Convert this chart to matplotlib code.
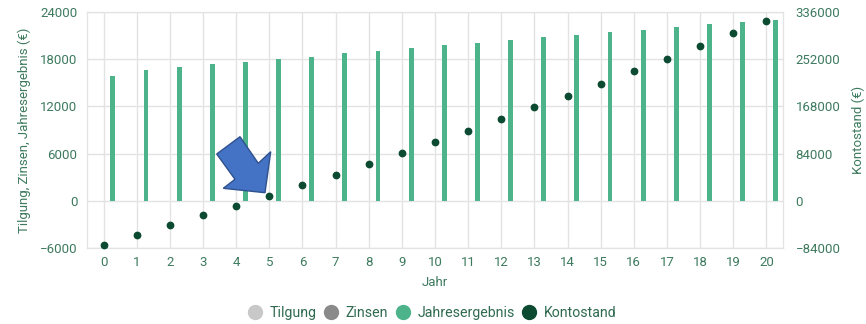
import numpy as np
import matplotlib
matplotlib.use("Agg")
import matplotlib.pyplot as plt
import matplotlib.patches as mpatches
from matplotlib.lines import Line2D

plt.rcParams['font.family'] = ['Roboto', 'DejaVu Sans']

# Data
jahre = list(range(21))
jahresergebnis = [15870, 16600, 16950, 17330, 17660, 18000, 18340, 18730, 19060, 19370,
                  19750, 20080, 20460, 20770, 21100, 21440, 21740, 22040, 22420, 22680, 23010]
kontostand = [-77900, -60600, -43900, -26100, -8800, 9400, 27800, 46800, 65900, 84800,
              104500, 124800, 145400, 166400, 187200, 208600, 230500, 252600, 275100, 297800, 320800]
left_ticks = [-6000, 0, 6000, 12000, 18000, 24000]
right_ticks = [-84000, 0, 84000, 168000, 252000, 336000]
legend_labels = ["Tilgung", "Zinsen", "Jahresergebnis", "Kontostand"]

text_col = "#3d7a5e"
bar_col = "#4cb38a"
dot_col = "#0c4a31"
grid_col = "#e3e3e3"
legend_cols = ["#c8c8c8", "#8a8a8a", bar_col, dot_col]

fig = plt.figure(figsize=(8.66, 3.24), dpi=100)
W, H = 866, 324
left, right, top, bottom = 87, 783, 12, 248
ax = fig.add_axes([left / W, 1 - bottom / H, (right - left) / W, (bottom - top) / H])
ax2 = ax.twinx()

x = np.array(jahre)
ax.bar(x + 0.28, jahresergebnis, width=0.15, color=bar_col, zorder=3)
ax2.scatter(x, kontostand, s=21, color=dot_col, zorder=4, clip_on=False)

ax.set_xlim(-0.5, 20.5)
ax.set_ylim(-6000, 24000)
ax2.set_ylim(-84000, 336000)
ax.set_xticks(jahre)
ax.set_yticks(left_ticks)
ax2.set_yticks(right_ticks)

ax.grid(True, color=grid_col, linewidth=1, zorder=0)
ax.set_axisbelow(True)
for a in (ax, ax2):
    for s in a.spines.values():
        s.set_color(grid_col)
    a.tick_params(length=0, labelcolor=text_col, labelsize=9.5)
ax.tick_params(axis='y', pad=7)
ax.tick_params(axis='x', pad=6)
ax2.tick_params(axis='y', pad=9)
ax2.set_zorder(ax.get_zorder() + 1)
ax2.patch.set_visible(False)

ax.set_xlabel("Jahr", color=text_col, fontsize=9.5, labelpad=5)
ax.set_ylabel("Tilgung, Zinsen, Jahresergebnis (€)", color=text_col, fontsize=9.5, labelpad=6)
ax2.set_ylabel("Kontostand (€)", color=text_col, fontsize=9.5, labelpad=8)

# legend
handles = [Line2D([], [], marker='o', linestyle='', markersize=10, color=c) for c in legend_cols]
fig.legend(handles, legend_labels, loc='center', bbox_to_anchor=(433 / W, 1 - 313 / H),
           ncol=4, frameon=False, fontsize=10.2, labelcolor="#2f6a50",
           handlelength=0.8, handletextpad=0.6, columnspacing=0.65)

# blue arrow overlay
pts = [(216.7, 154), (240, 136.7), (258.3, 163.3), (270.7, 151.7),
       (265, 192.7), (223.3, 188.3), (235, 179.3)]
arrow = mpatches.Polygon([(px / W, 1 - py / H) for px, py in pts], closed=True,
                         transform=fig.transFigure, facecolor="#4472c4",
                         edgecolor="#2f528f", linewidth=1, zorder=10)
fig.patches.append(arrow)

fig.savefig("out.png", dpi=100)
